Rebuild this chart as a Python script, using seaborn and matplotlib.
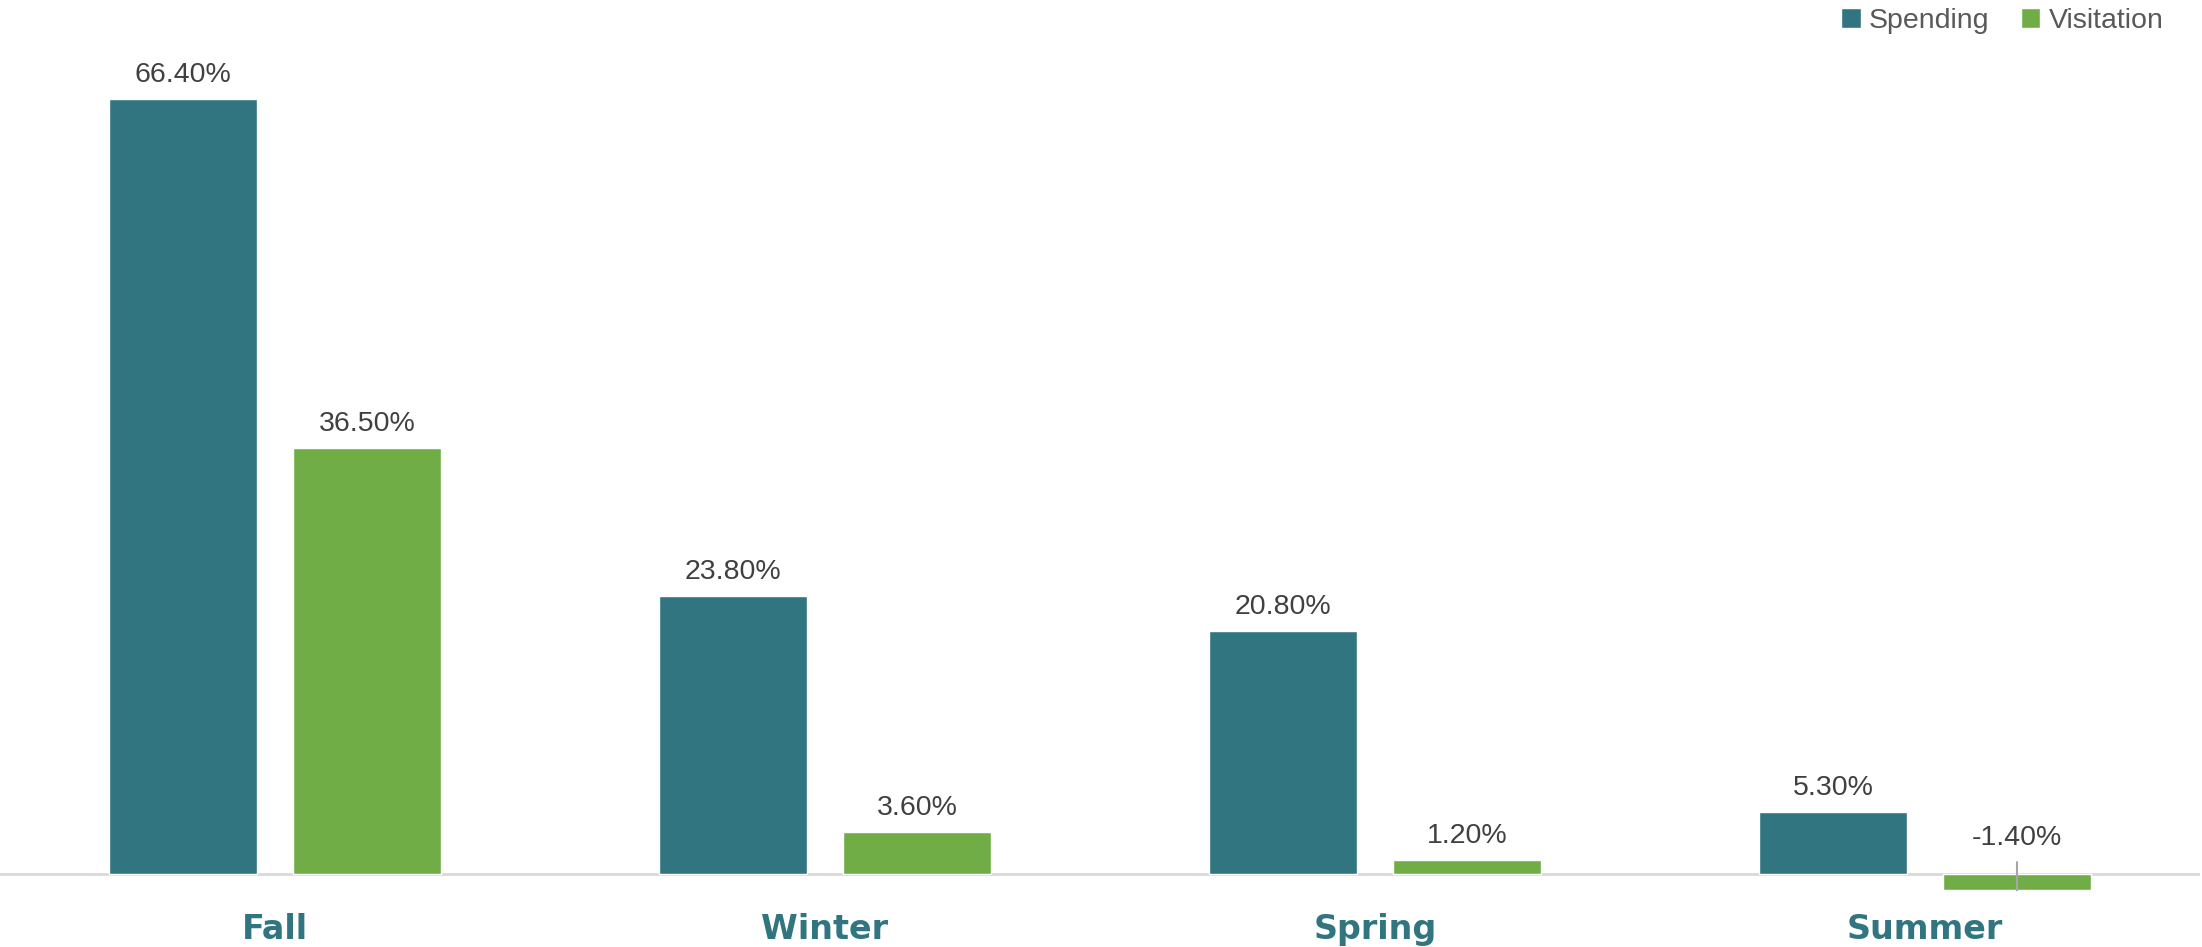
import pandas as pd
import numpy as np
import matplotlib
matplotlib.use('Agg')
import matplotlib.pyplot as plt
import seaborn as sns

# chart data
seasons = ['Fall', 'Winter', 'Spring', 'Summer']
spending = [66.4, 23.8, 20.8, 5.3]
visitation = [36.5, 3.6, 1.2, -1.4]
series_names = ['Spending', 'Visitation']

teal = '#317580'
green = '#70ad47'

df = pd.DataFrame({
    'season': seasons * 2,
    'series': [series_names[0]] * 4 + [series_names[1]] * 4,
    'value': spending + visitation,
})

sns.set_style('white')
plt.rcParams['font.family'] = ['Liberation Sans', 'DejaVu Sans']

fig = plt.figure(figsize=(22.02, 9.47), dpi=100)
ax = fig.add_axes([0, 47 / 947, 2200 / 2202, 900 / 947])

sns.barplot(data=df, x='season', y='value', hue='series', order=seasons,
            hue_order=series_names, palette={'Spending': teal, 'Visitation': green},
            width=0.669, gap=0.196, saturation=1, ax=ax, errorbar=None)

ax.set_xlim(-0.5, 3.5)
ax.set_ylim(-2.23, 74.89)
for s in ax.spines.values():
    s.set_visible(False)
ax.axhline(0, color='#d9d9d9', lw=2, zorder=0.5)
ax.set_yticks([])
ax.set_xlabel('')
ax.set_ylabel('')
ax.tick_params(axis='x', length=0, pad=9)
for lab in ax.get_xticklabels():
    lab.set_family('DejaVu Sans')
    lab.set_fontweight('heavy')
    lab.set_fontsize(24)
    lab.set_color(teal)

# value labels
for cont in ax.containers:
    for bar in cont:
        v = bar.get_height()
        xc = bar.get_x() + bar.get_width() / 2
        if v >= 0:
            ax.annotate(f'{v:.2f}%', xy=(xc, v), xytext=(0, 8), textcoords='offset points',
                        ha='center', va='bottom', fontsize=20.5, color='#404040')
        else:
            ax.annotate(f'{v:.2f}%', xy=(xc, v), xytext=(0, 38), textcoords='offset points',
                        ha='center', va='center', fontsize=20.5, color='#404040',
                        arrowprops=dict(arrowstyle='-', color='#a6a6a6', lw=1.5,
                                        shrinkA=6, shrinkB=0))

handles, labels = ax.get_legend_handles_labels()
ax.legend(handles, labels, loc='upper right', bbox_to_anchor=(2178 / 2202, 1.0 + 6 / 947),
          bbox_transform=fig.transFigure, ncol=2, frameon=False, fontsize=20.5,
          handlelength=0.68, handleheight=0.68, handletextpad=0.3, columnspacing=1.1,
          borderaxespad=0.1, labelcolor='#595959')

fig.savefig('out.png', dpi=100)
